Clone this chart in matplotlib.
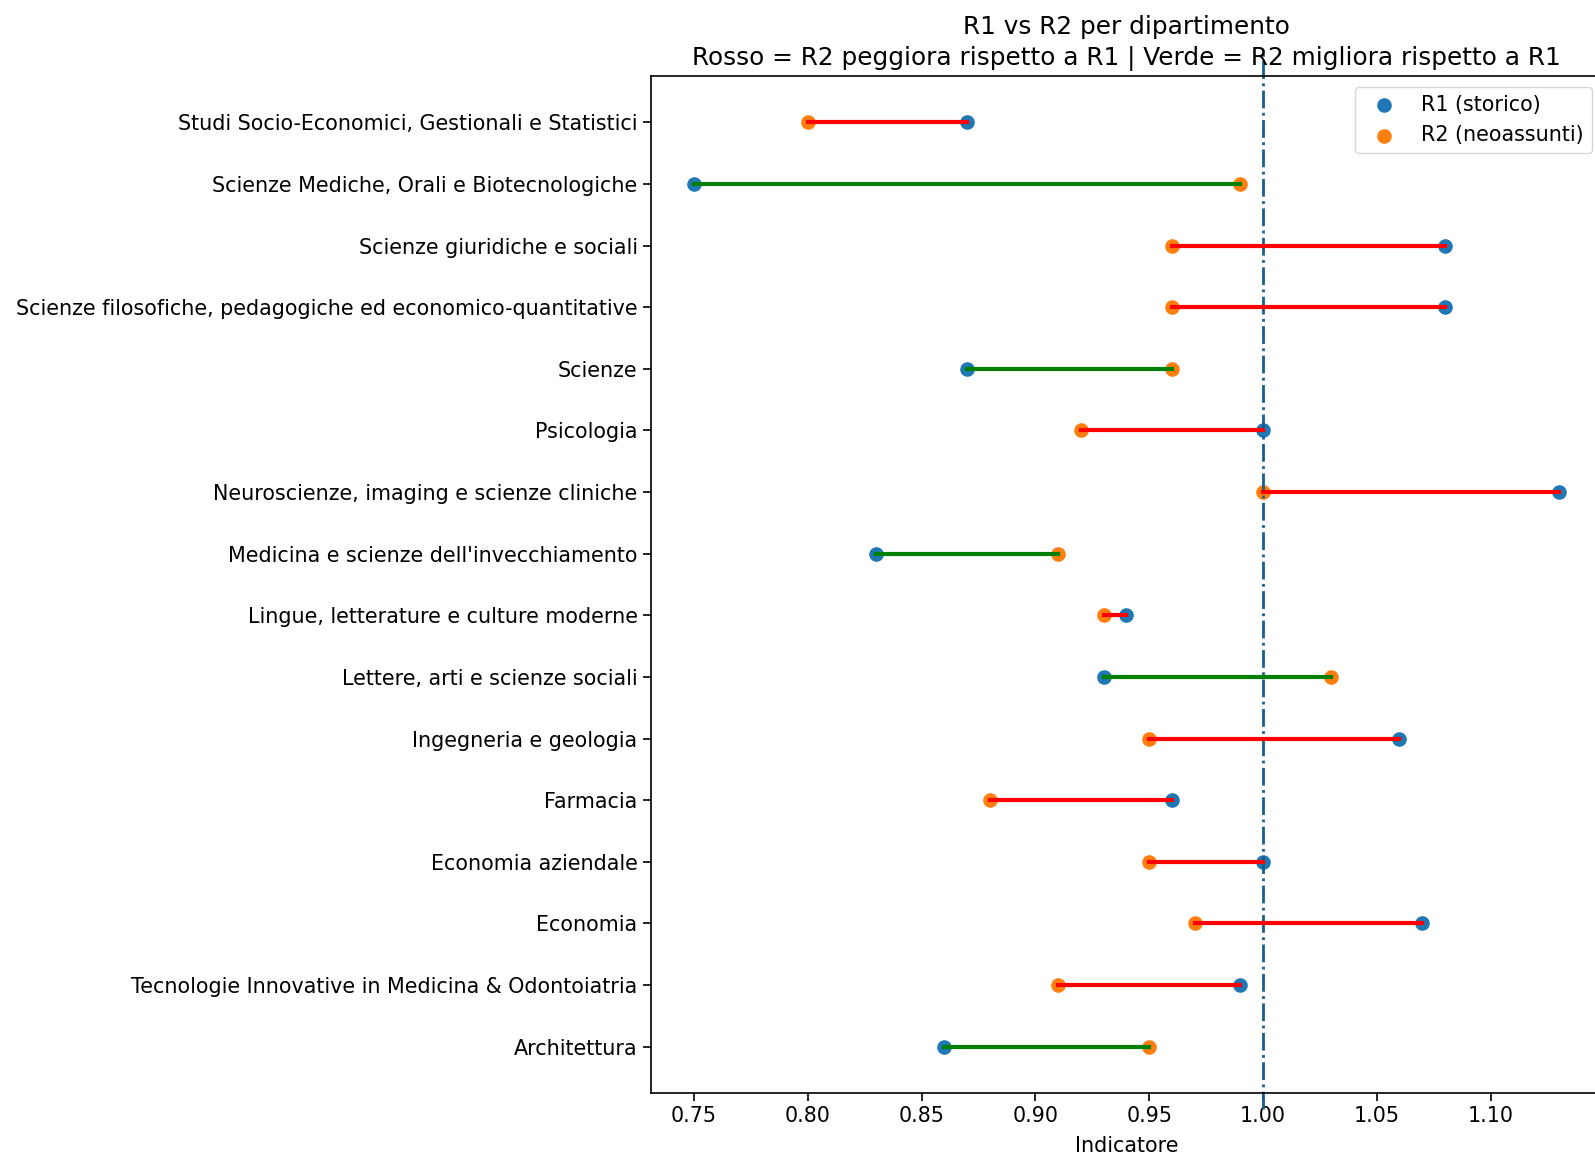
import matplotlib
matplotlib.use("Agg")
import matplotlib.pyplot as plt
import numpy as np

categories = [
    "Studi Socio-Economici, Gestionali e Statistici",
    "Scienze Mediche, Orali e Biotecnologiche",
    "Scienze giuridiche e sociali",
    "Scienze filosofiche, pedagogiche ed economico-quantitative",
    "Scienze",
    "Psicologia",
    "Neuroscienze, imaging e scienze cliniche",
    "Medicina e scienze dell'invecchiamento",
    "Lingue, letterature e culture moderne",
    "Lettere, arti e scienze sociali",
    "Ingegneria e geologia",
    "Farmacia",
    "Economia aziendale",
    "Economia",
    "Tecnologie Innovative in Medicina & Odontoiatria",
    "Architettura",
]
r1 = [0.87, 0.75, 1.08, 1.08, 0.87, 1.00, 1.13, 0.83, 0.94, 0.93, 1.06, 0.96, 1.00, 1.07, 0.99, 0.86]
r2 = [0.80, 0.99, 0.96, 0.96, 0.96, 0.92, 1.00, 0.91, 0.93, 1.03, 0.95, 0.88, 0.95, 0.97, 0.91, 0.95]
xticks = [0.75, 0.80, 0.85, 0.90, 0.95, 1.00, 1.05, 1.10]

FS = 14.9
fig = plt.figure(figsize=(15.95, 11.54), dpi=100)
ax = fig.add_axes([0.408, 0.0529, 0.5964, 0.8811])

y = np.arange(len(categories))
ax.scatter(r1, y, s=90, color="#1f77b4", label="R1 (storico)", zorder=2)
ax.scatter(r2, y, s=90, color="#ff7f0e", label="R2 (neoassunti)", zorder=2)
for yi, a, b in zip(y, r1, r2):
    c = "green" if b > a else "red"
    ax.plot([a, b], [yi, yi], color=c, lw=3, zorder=3)

ax.axvline(1.0, ymin=-0.016, ymax=1.022, color="#1b5e86", ls="-.", lw=2, clip_on=False)

ax.set_yticks(y)
ax.set_yticklabels(categories, fontsize=FS)
ax.invert_yaxis()
ax.set_xticks(xticks)
ax.set_xticklabels([f"{v:.2f}" for v in xticks], fontsize=FS)
ax.tick_params(length=6, width=1.2)
for s in ax.spines.values():
    s.set_linewidth(1.2)
ax.set_xlabel("Indicatore", fontsize=FS, labelpad=7)
ax.set_title("R1 vs R2 per dipartimento\nRosso = R2 peggiora rispetto a R1 | Verde = R2 migliora rispetto a R1",
             fontsize=17.8, pad=8, linespacing=1.38)
ax.legend(loc="upper right", fontsize=FS)

fig.savefig("out.png", dpi=100)
